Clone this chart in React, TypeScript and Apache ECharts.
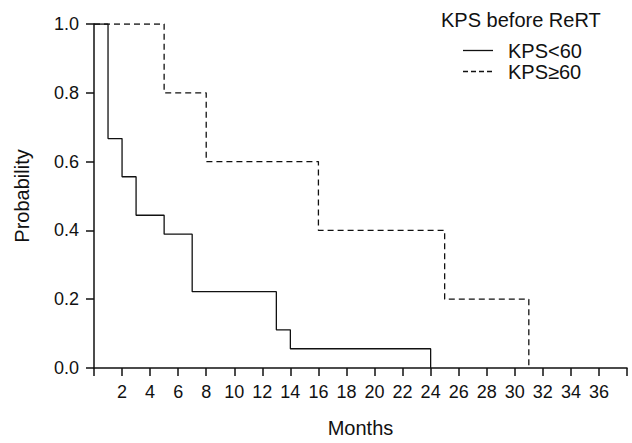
import React, { useEffect, useRef } from "react";
import * as echarts from "echarts";

const kpsLow: [number, number][] = [
  [0, 1.0], [1, 0.667], [2, 0.556], [3, 0.444], [5, 0.389],
  [7, 0.222], [13, 0.111], [14, 0.056], [24, 0.0],
];
const kpsHigh: [number, number][] = [
  [0, 1.0], [5, 0.8], [8, 0.6], [16, 0.4], [25, 0.2], [31, 0.0],
];
const seriesNames = ["KPS<60", "KPS\u226560"];
const legendTitle = "KPS before ReRT";
const xName = "Months";
const yName = "Probability";

const FONT = "Liberation Sans, Arial, sans-serif";

export default function App() {
  const ref = useRef<HTMLDivElement>(null);
  useEffect(() => {
    document.body.style.margin = "0";
    if (!ref.current) return;
    const chart = echarts.init(ref.current, undefined, { renderer: "svg" });
    chart.setOption({
      animation: false,
      backgroundColor: "#fff",
      grid: { left: 94, right: 5, top: 24, bottom: 66 },
      xAxis: {
        type: "value",
        min: 0,
        max: 38,
        interval: 2,
        name: xName,
        nameLocation: "middle",
        nameGap: 50,
        nameTextStyle: { fontFamily: FONT, fontSize: 20, color: "#111" },
        axisLine: { lineStyle: { color: "#111", width: 1.5 } },
        axisTick: { length: 8, lineStyle: { color: "#111", width: 1.5 } },
        axisLabel: {
          fontFamily: FONT,
          fontSize: 18,
          color: "#111",
          margin: 15,
          formatter: (v: number) => (v === 0 || v === 38 ? "" : String(v)),
        },
        splitLine: { show: false },
      },
      yAxis: {
        type: "value",
        min: 0,
        max: 1,
        interval: 0.2,
        name: yName,
        nameLocation: "middle",
        nameGap: 62,
        nameTextStyle: { fontFamily: FONT, fontSize: 20, color: "#111" },
        axisLine: { show: true, lineStyle: { color: "#111", width: 1.5 } },
        axisTick: { show: true, length: 8, lineStyle: { color: "#111", width: 1.5 } },
        axisLabel: {
          fontFamily: FONT,
          fontSize: 18,
          color: "#111",
          margin: 15,
          formatter: (v: number) => v.toFixed(1),
        },
        splitLine: { show: false },
      },
      graphic: [
        {
          type: "text",
          left: 441,
          top: 10,
          style: { text: legendTitle, font: `20px ${FONT}`, fill: "#111" },
        },
        {
          type: "line",
          shape: { x1: 463, y1: 50.5, x2: 493, y2: 50.5 },
          style: { stroke: "#111", lineWidth: 1.3 },
        },
        {
          type: "text",
          left: 508,
          top: 41,
          style: { text: seriesNames[0], font: `20px ${FONT}`, fill: "#111" },
        },
        {
          type: "line",
          shape: { x1: 463, y1: 71.5, x2: 493, y2: 71.5 },
          style: { stroke: "#111", lineWidth: 1.3, lineDash: [5, 3] },
        },
        {
          type: "text",
          left: 508,
          top: 62,
          style: { text: seriesNames[1], font: `20px ${FONT}`, fill: "#111" },
        },
      ],
      series: [
        {
          name: seriesNames[0],
          type: "line",
          step: "end",
          data: kpsLow,
          showSymbol: false,
          symbol: "none",
          lineStyle: { color: "#111", width: 1.3 },
        },
        {
          name: seriesNames[1],
          type: "line",
          step: "end",
          data: kpsHigh,
          showSymbol: false,
          symbol: "none",
          lineStyle: { color: "#111", width: 1.3, type: [6, 4] },
        },
      ],
    });
    return () => chart.dispose();
  }, []);
  return <div ref={ref} style={{ width: 632, height: 443 }} />;
}
